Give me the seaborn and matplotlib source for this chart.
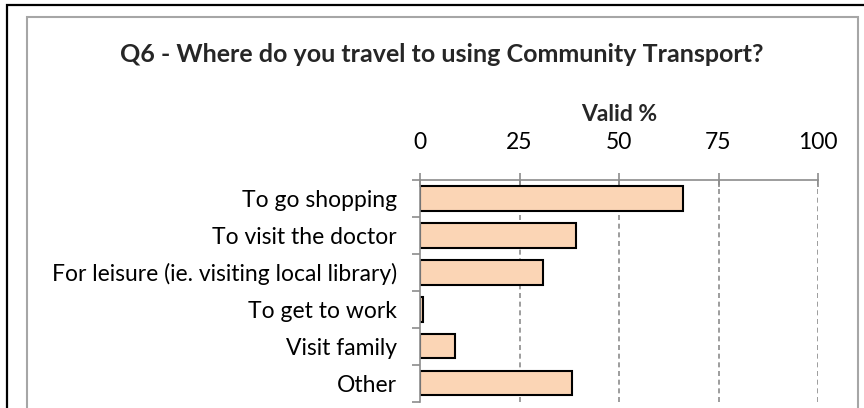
import matplotlib
matplotlib.use("Agg")
import matplotlib.pyplot as plt
from matplotlib.patches import Rectangle
from matplotlib.ticker import FixedLocator
import seaborn as sns
import pandas as pd

# Survey results
destinations = [
    "To go shopping",
    "To visit the doctor",
    "For leisure (ie. visiting local library)",
    "To get to work",
    "Visit family",
    "Other",
]
valid_pct = [66.1, 39.3, 30.9, 0.8, 8.7, 38.3]
x_ticks = [0, 25, 50, 75, 100]

title = "Q6 - Where do you travel to using Community Transport?"
axis_title = "Valid %"

sns.set_theme(style="white")
plt.rcParams["font.family"] = ["Lato", "DejaVu Sans"]

df = pd.DataFrame({"destination": destinations, "pct": valid_pct})

W, H = 864, 408
fig = plt.figure(figsize=(W / 100, H / 100), dpi=100)
fig.patch.set_facecolor("white")

# Outer black border and inner grey chart-area border
fig.add_artist(Rectangle((7 / W, -0.2), 1.2, (H - 5) / H + 0.2,
                         transform=fig.transFigure, fill=False,
                         edgecolor="black", linewidth=1.6))
fig.add_artist(Rectangle((27 / W, -0.2), (858 - 27) / W, (H - 17) / H + 0.2,
                         transform=fig.transFigure, fill=False,
                         edgecolor="#a6a6a6", linewidth=1.5))

ax = fig.add_axes([420 / W, 1 - 401.7 / H, (818 - 420) / W, (401.7 - 180) / H])

sns.barplot(data=df, x="pct", y="destination", orient="h", ax=ax,
            color="#FBD5B5", saturation=1, edgecolor="black",
            linewidth=1.5, width=0.66)

ax.set_xlim(0, 100)
ax.set_ylim(5.5, -0.5)

FS = 16.5

# Value axis on top, dashed vertical gridlines
ax.xaxis.tick_top()
ax.xaxis.set_label_position("top")
ax.set_xticks(x_ticks)
ax.set_xticklabels([str(t) for t in x_ticks], fontsize=FS)
ax.tick_params(axis="x", direction="inout", length=10, width=1.2,
               color="#8c8c8c", pad=14.5, labelcolor="black")
ax.set_xlabel(axis_title, fontsize=FS, fontweight="bold", labelpad=8)
for t in x_ticks[1:]:
    ax.axvline(t, color="#8c8c8c", linestyle=(0, (3, 2.2)),
               linewidth=1.2, zorder=0)

# Category axis: labels at centres, tick marks at category boundaries
ax.set_ylabel("")
ax.tick_params(axis="y", which="major", length=0, pad=16.5, labelsize=FS,
               labelcolor="black")
ax.yaxis.set_minor_locator(FixedLocator([i - 0.5 for i in range(len(destinations) + 1)]))
ax.tick_params(axis="y", which="minor", direction="out", length=6,
               width=1.2, color="#8c8c8c", left=True)

for side in ["right", "bottom"]:
    ax.spines[side].set_visible(False)
for side in ["top", "left"]:
    ax.spines[side].set_color("#8c8c8c")
    ax.spines[side].set_linewidth(1.2)
ax.grid(False)

fig.text(442 / W, 1 - 55 / H, title, ha="center", va="center",
         fontsize=18, fontweight="bold")

fig.savefig("out.png", dpi=100)
